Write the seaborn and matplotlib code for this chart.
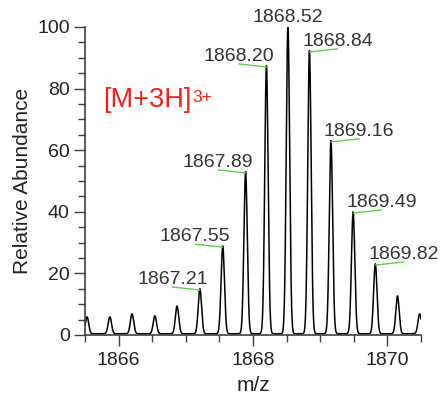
import numpy as np
import pandas as pd
import matplotlib
matplotlib.use("Agg")
import matplotlib.pyplot as plt
from matplotlib.ticker import MultipleLocator
import seaborn as sns

# ---- data ----
peak_mz = [1865.53, 1865.87, 1866.20, 1866.54, 1866.87, 1867.21, 1867.55,
           1867.89, 1868.20, 1868.52, 1868.84, 1869.16, 1869.49, 1869.82,
           1870.15, 1870.48]
peak_int = [5.5, 5.5, 6.5, 5.8, 9.0, 14.6, 28.5, 52.6, 87.0, 100.0, 91.9,
            62.7, 39.6, 22.7, 12.3, 6.5]
label_mz = [1867.21, 1867.55, 1867.89, 1868.20, 1868.52, 1868.84, 1869.16,
            1869.49, 1869.82]
label_text = ["1867.21", "1867.55", "1867.89", "1868.20", "1868.52",
              "1868.84", "1869.16", "1869.49", "1869.82"]
x_ticks = [1866, 1868, 1870]
y_ticks = [0, 20, 40, 60, 80, 100]
ion_label = "[M+3H]"
ion_charge = "3+"

sns.set_style("ticks")
plt.rcParams["font.family"] = ["Liberation Sans", "DejaVu Sans"]

# profile spectrum built from the centroid list (gaussian peak shape)
mz = np.linspace(1865.5, 1870.5, 3001)
sigma = 0.025
inten = np.full_like(mz, 0.4)
for c, h in zip(peak_mz, peak_int):
    inten += h * np.exp(-0.5 * ((mz - c) / sigma) ** 2)
df = pd.DataFrame({"m/z": mz, "Relative Abundance": inten})

fig = plt.figure(figsize=(4.44, 3.98), dpi=100)
ax = fig.add_axes([0.1914, 0.1583, 0.7568, 0.7739])
sns.lineplot(data=df, x="m/z", y="Relative Abundance", ax=ax,
             color="black", linewidth=1.1)

ax.set_xlim(1865.5, 1870.5)
ax.set_ylim(0, 100)
ax.set_xticks(x_ticks)
ax.set_yticks(y_ticks)
ax.xaxis.set_minor_locator(MultipleLocator(0.5))
ax.yaxis.set_minor_locator(MultipleLocator(5))
ax.tick_params(which="major", direction="out", length=8, width=1,
               color="#404040", labelsize=14, labelcolor="#222222")
ax.tick_params(axis="y", which="major", pad=3)
ax.tick_params(axis="x", which="major", pad=4)
ax.tick_params(which="minor", direction="out", length=5, width=1,
               color="#404040")
sns.despine(ax=ax)
for s in ("left", "bottom"):
    ax.spines[s].set_color("#404040")
    ax.spines[s].set_linewidth(1.2)
ax.set_xlabel("m/z", fontsize=15, color="#222222", labelpad=5)
ax.set_ylabel("Relative Abundance", fontsize=15, color="#222222", labelpad=4)

# peak annotations
ref = dict(zip(peak_mz, peak_int))
imax = max(ref, key=ref.get)
for lm, lt in zip(label_mz, label_text):
    h = ref[lm]
    if lm == imax:
        ax.text(lm, h + 1.6, lt, ha="center", va="baseline", fontsize=14,
                color="#333333", clip_on=False)
        continue
    dx = -0.41 if lm < imax else 0.42
    ax.plot([lm, lm + dx], [h, h + 1.0], color="#66cc55", lw=1.0,
            clip_on=False)
    ax.text(lm + dx, h + 2.0, lt, ha="center", va="baseline", fontsize=14,
            color="#333333", clip_on=False)

t = ax.text(1865.77, 74, ion_label, fontsize=19.5, color="#ff1a1a",
            va="baseline", ha="left")
ax.annotate(ion_charge, xy=(1, 1), xycoords=t, xytext=(1, -2),
            textcoords="offset points", fontsize=12.5, color="#ff1a1a",
            va="top", ha="left")

fig.savefig("out.png", dpi=100)
